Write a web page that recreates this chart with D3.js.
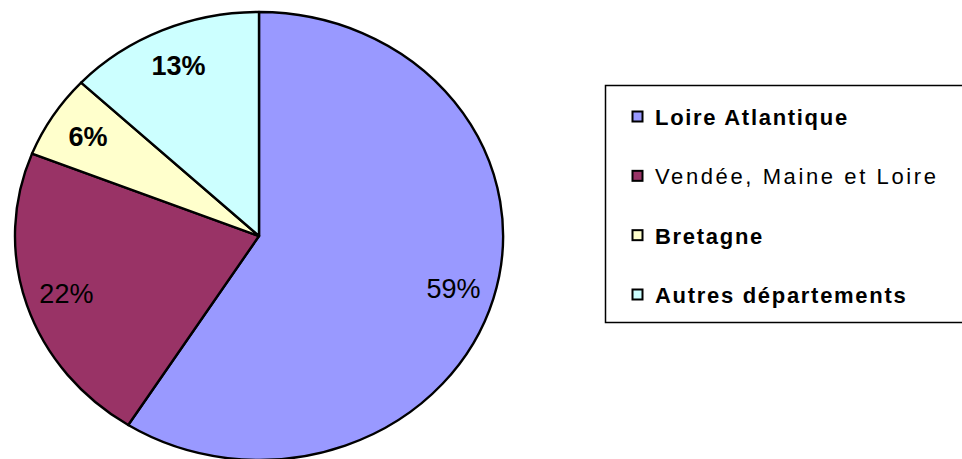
<!DOCTYPE html>
<html>
<head>
<meta charset="utf-8">
<script src="https://cdn.jsdelivr.net/npm/d3@7.9.0/dist/d3.min.js"></script>
<style>
  html, body { margin: 0; padding: 0; background: #fff; }
  svg { display: block; font-family: "Liberation Sans", Arial, sans-serif; }
</style>
</head>
<body>
<svg id="chart" width="962" height="459"></svg>
<script>
const categories = ['Loire Atlantique', 'Vendée, Maine et Loire', 'Bretagne', 'Autres départements'];
const shares = [59, 22, 6, 13];
const sliceColors = ['#9999ff', '#993366', '#ffffcc', '#ccffff'];
const boldPieLabels = [false, false, true, true];
const boldLegend = [true, false, true, true];

const svg = d3.select('#chart');
const data = categories.map((name, i) => ({ name, value: shares[i], color: sliceColors[i], i }));

// the original pie is slightly stretched: draw a unit pie and scale it
const cx = 259, cy = 236, rx = 244, ry = 224;
const pie = d3.pie().value(d => d.value).sort(null);
const arc = d3.arc().innerRadius(0).outerRadius(1);
const labelArc = d3.arc().innerRadius(0.83).outerRadius(0.83);
const arcs = pie(data);

const pieG = svg.append('g').attr('transform', `translate(${cx},${cy}) scale(${rx},${ry})`);
pieG.selectAll('path').data(arcs).join('path')
  .attr('d', arc)
  .attr('fill', d => d.data.color)
  .attr('stroke', '#000')
  .attr('stroke-width', 2.4)
  .attr('stroke-linejoin', 'round')
  .attr('vector-effect', 'non-scaling-stroke');

svg.append('g').selectAll('text').data(arcs).join('text')
  .attr('x', d => cx + labelArc.centroid(d)[0] * rx)
  .attr('y', d => cy + labelArc.centroid(d)[1] * ry)
  .attr('text-anchor', 'middle')
  .attr('dy', '0.36em')
  .attr('font-size', 27)
  .attr('font-weight', d => boldPieLabels[d.data.i] ? 'bold' : 'normal')
  .attr('fill', '#000')
  .text(d => d.data.value + '%');

// legend
const lg = svg.append('g');
lg.append('rect')
  .attr('x', 605.5).attr('y', 85.5)
  .attr('width', 360).attr('height', 237)
  .attr('fill', '#fff').attr('stroke', '#000').attr('stroke-width', 1.5);

const rowY = d3.scalePoint().domain(categories).range([117, 295]);
const rows = lg.selectAll('g.item').data(data).join('g').attr('class', 'item')
  .attr('transform', d => `translate(632,${rowY(d.name)})`);
rows.append('rect')
  .attr('x', 0.5).attr('y', -5.5).attr('width', 10).attr('height', 10)
  .attr('fill', d => d.color).attr('stroke', '#000').attr('stroke-width', 2);
rows.append('text')
  .attr('x', 23).attr('dy', '0.36em')
  .attr('font-size', 22)
  .attr('letter-spacing', d => boldLegend[d.i] ? 1.7 : 2.6)
  .attr('font-weight', d => boldLegend[d.i] ? 'bold' : 'normal')
  .attr('fill', '#000')
  .text(d => d.name);
</script>
</body>
</html>
